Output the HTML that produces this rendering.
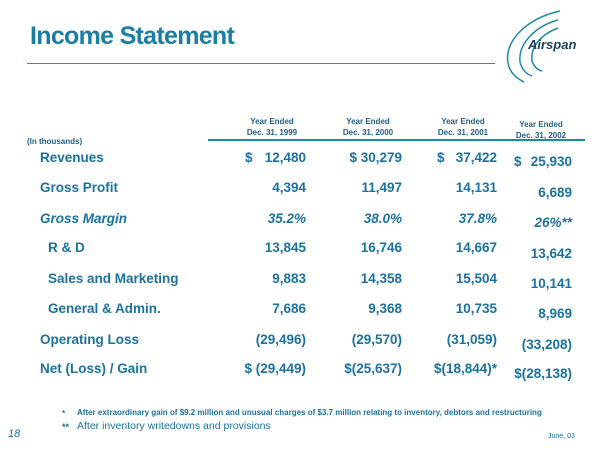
<!DOCTYPE html>
<html><head><style>
body{margin:0;width:600px;height:450px;background:#fff;font-family:"Liberation Sans",sans-serif;position:relative;overflow:hidden;color:#1a72a0}
div{position:absolute;white-space:nowrap}
.t{font-weight:bold;font-size:13.5px}
.r{text-align:right;width:120px}
.h{font-size:8px;font-weight:bold;color:#1f5f85;text-align:center;width:90px;line-height:11px}
</style></head><body>
<div style="left:30px;top:22px;font-size:25px;font-weight:bold;color:#1a7ea3;letter-spacing:-0.7px">Income Statement</div>
<div style="left:27px;top:63px;width:468px;height:1px;background:#2a8fb0"></div>
<svg style="position:absolute;left:498px;top:8px" width="102" height="80">
<path d="M62 3 C30 10 6 32 10 55 C12 65 18 70 26 74" fill="none" stroke="#1a8aa5" stroke-width="1.5"/>
<path d="M60 12 C38 18 20 35 22 54 C24 62 28 66 34 68" fill="none" stroke="#1a8aa5" stroke-width="1.5"/>
<path d="M60 20 C44 26 32 38 34 53 C36 59 40 62 44 63" fill="none" stroke="#1a8aa5" stroke-width="1.5"/>
<text x="30" y="41" font-family="Liberation Sans" font-weight="bold" font-style="italic" font-size="13" fill="#1a3f5a">Airspan</text>
</svg>
<div class="h" style="left:227px;top:116px">Year Ended<br>Dec. 31, 1999</div>
<div class="h" style="left:323px;top:116px">Year Ended<br>Dec. 31, 2000</div>
<div class="h" style="left:418px;top:116px">Year Ended<br>Dec. 31, 2001</div>
<div class="h" style="left:496px;top:119px">Year Ended<br>Dec. 31, 2002</div>
<div style="left:208px;top:139px;width:377px;height:2px;background:#1a8aa5"></div>
<div style="left:27px;top:137px;font-size:8px;font-weight:bold;color:#1f5f85">(In thousands)</div>

<div class="t" style="left:40px;top:150px">Revenues</div>
<div class="t" style="left:40px;top:180px">Gross Profit</div>
<div class="t" style="left:40px;top:211px;font-style:italic">Gross Margin</div>
<div class="t" style="left:48px;top:240px">R &amp; D</div>
<div class="t" style="left:48px;top:271px">Sales and Marketing</div>
<div class="t" style="left:48px;top:301px">General &amp; Admin.</div>
<div class="t" style="left:40px;top:332px">Operating Loss</div>
<div class="t" style="left:40px;top:361px">Net (Loss) / Gain</div>

<div class="t" style="left:245px;top:150px">$</div>
<div class="t r" style="left:186px;top:150px">12,480</div>
<div class="t r" style="left:186px;top:180px">4,394</div>
<div class="t r" style="left:186px;top:211px;font-style:italic">35.2%</div>
<div class="t r" style="left:186px;top:240px">13,845</div>
<div class="t r" style="left:186px;top:271px">9,883</div>
<div class="t r" style="left:186px;top:301px">7,686</div>
<div class="t r" style="left:186px;top:332px">(29,496)</div>
<div class="t r" style="left:186px;top:361px">$ (29,449)</div>

<div class="t r" style="left:282px;top:150px">$ 30,279</div>
<div class="t r" style="left:282px;top:180px">11,497</div>
<div class="t r" style="left:282px;top:211px;font-style:italic">38.0%</div>
<div class="t r" style="left:282px;top:240px">16,746</div>
<div class="t r" style="left:282px;top:271px">14,358</div>
<div class="t r" style="left:282px;top:301px">9,368</div>
<div class="t r" style="left:282px;top:332px">(29,570)</div>
<div class="t r" style="left:282px;top:361px">$(25,637)</div>

<div class="t" style="left:437px;top:150px">$</div>
<div class="t r" style="left:377px;top:150px">37,422</div>
<div class="t r" style="left:377px;top:180px">14,131</div>
<div class="t r" style="left:377px;top:211px;font-style:italic">37.8%</div>
<div class="t r" style="left:377px;top:240px">14,667</div>
<div class="t r" style="left:377px;top:271px">15,504</div>
<div class="t r" style="left:377px;top:301px">10,735</div>
<div class="t r" style="left:377px;top:332px">(31,059)</div>
<div class="t r" style="left:377px;top:361px">$(18,844)*</div>

<div class="t" style="left:514px;top:154px">$</div>
<div class="t r" style="left:452px;top:154px">25,930</div>
<div class="t r" style="left:452px;top:185px">6,689</div>
<div class="t r" style="left:452px;top:215px;font-style:italic">26%**</div>
<div class="t r" style="left:452px;top:246px">13,642</div>
<div class="t r" style="left:452px;top:276px">10,141</div>
<div class="t r" style="left:452px;top:306px">8,969</div>
<div class="t r" style="left:452px;top:337px">(33,208)</div>
<div class="t r" style="left:452px;top:366px">$(28,138)</div>

<div style="left:62px;top:409px;font-size:8px;font-weight:bold">*</div>
<div style="left:77px;top:408px;font-size:8px;font-weight:bold">After extraordinary gain of $9.2 million and unusual charges of $3.7 million relating to inventory, debtors and restructuring</div>
<div style="left:62px;top:422px;font-size:9px;font-weight:bold">**</div>
<div style="left:77px;top:420px;font-size:10.5px">After inventory writedowns and provisions</div>
<div style="left:8px;top:428px;font-size:11px;font-style:italic">18</div>
<div style="left:548px;top:433px;font-size:7px">June, 03</div>
</body></html>
